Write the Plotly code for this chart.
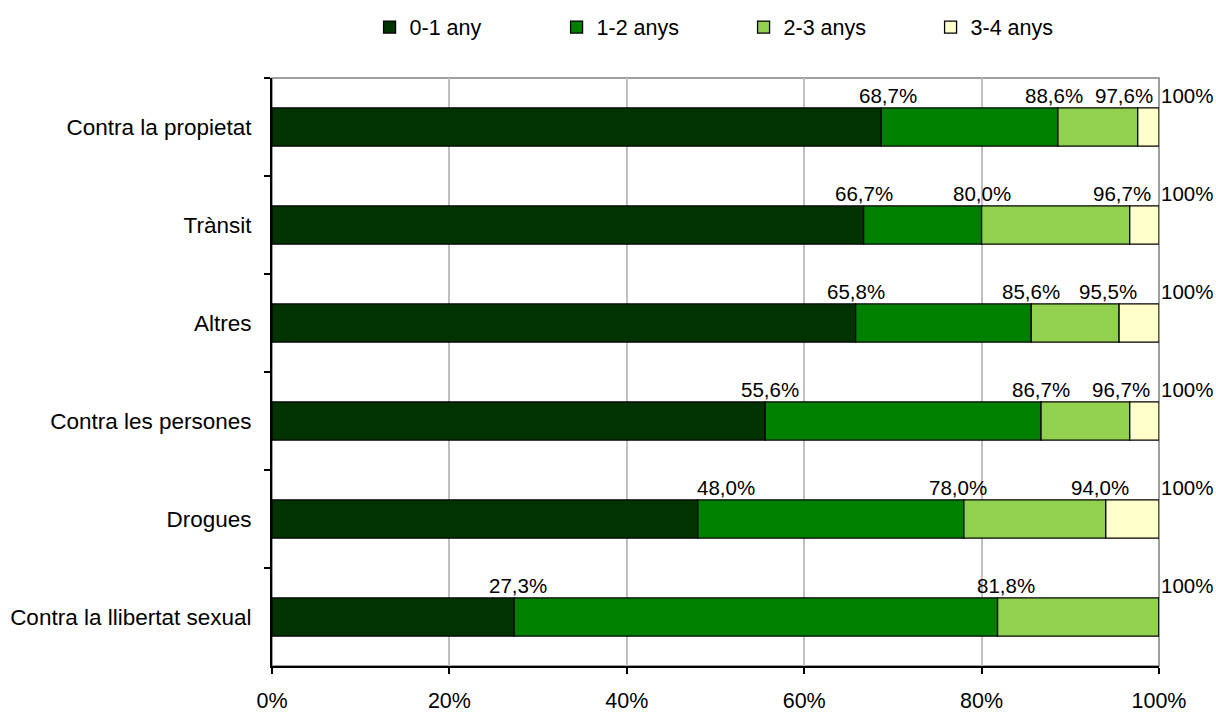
import plotly.graph_objects as go

categories = ["Contra la propietat", "Trànsit", "Altres", "Contra les persones",
              "Drogues", "Contra la llibertat sexual"]
series_names = ["0-1 any", "1-2 anys", "2-3 anys", "3-4 anys"]
# cumulative percentages at the end of each segment
cum_0_1 = [68.7, 66.7, 65.8, 55.6, 48.0, 27.3]
cum_1_2 = [88.6, 80.0, 85.6, 86.7, 78.0, 81.8]
cum_2_3 = [97.6, 96.7, 95.5, 96.7, 94.0, 100.0]
cum_3_4 = [100.0, 100.0, 100.0, 100.0, 100.0, 100.0]
colors = ["#003300", "#008000", "#92D050", "#FFFFCC"]
x_ticks = [0, 20, 40, 60, 80, 100]
x_tick_labels = ["0%", "20%", "40%", "60%", "80%", "100%"]

# pixel nudges of the value labels (layout only), per series then per category
label_dx = [
    [7, 0, 0, 5, 28, 4],
    [-4, 0, 0, 0, -6, 8],
    [-14, -8, -11, -9, -6, 0],
    [0, 0, 0, 0, 0, 0],
]

cums = [cum_0_1, cum_1_2, cum_2_3, cum_3_4]
FONT = "Liberation Sans, Arial, sans-serif"

fig = go.Figure()
prev = [0.0] * len(categories)
for name, cum, col in zip(series_names, cums, colors):
    widths = [c - p for c, p in zip(cum, prev)]
    fig.add_trace(go.Bar(
        y=categories, x=widths, base=prev, name=name, orientation="h",
        marker=dict(color=col, line=dict(color="black", width=1.3)),
        width=0.39, hoverinfo="skip",
    ))
    prev = list(cum)

annotations = []
for i, cat in enumerate(categories):
    shown = []
    for s, cum in enumerate(cums):
        v = cum[i]
        if v in shown:
            continue
        shown.append(v)
        if v >= 100:
            annotations.append(dict(x=100, y=cat, xref="x", yref="y", text="100%",
                                    showarrow=False, xanchor="left", xshift=0, yshift=32,
                                    font=dict(family=FONT, size=20.5, color="black")))
        else:
            txt = f"{v:.1f}".replace(".", ",") + "%"
            annotations.append(dict(x=v, y=cat, xref="x", yref="y", text=txt,
                                    showarrow=False, xanchor="center",
                                    xshift=label_dx[s][i], yshift=32,
                                    font=dict(family=FONT, size=20.5, color="black")))

fig.update_layout(
    width=1216, height=713,
    barmode="overlay",
    paper_bgcolor="white", plot_bgcolor="white",
    margin=dict(l=272, r=57, t=78, b=47, autoexpand=False),
    font=dict(family=FONT, size=21, color="black"),
    showlegend=True,
    legend=dict(orientation="h", x=0.11, xanchor="left", y=0.962, yanchor="middle",
                yref="container", entrywidth=142, entrywidthmode="pixels",
                font=dict(family=FONT, size=21.5), traceorder="normal",
                itemwidth=30, bgcolor="rgba(0,0,0,0)"),
    annotations=annotations,
    shapes=[dict(type="rect", xref="paper", yref="paper", x0=0, x1=1, y0=0, y1=1,
                 line=dict(color="#808080", width=1.5), layer="below")],
)
fig.update_xaxes(range=[0, 100], tickvals=x_ticks, ticktext=x_tick_labels,
                 showgrid=True, gridcolor="#C0C0C0", gridwidth=1.5,
                 showline=True, linecolor="black", linewidth=2,
                 ticks="outside", ticklen=6, tickcolor="black", tickwidth=2,
                 ticklabelstandoff=8, zeroline=False, automargin=False,
                 tickfont=dict(family=FONT, size=21.5))
fig.update_yaxes(categoryorder="array", categoryarray=categories, autorange="reversed",
                 showline=True, linecolor="black", linewidth=2,
                 ticks="outside", ticklen=6, tickcolor="black", tickwidth=2,
                 tickson="boundaries", showgrid=False, automargin=False,
                 ticklabelstandoff=14,
                 tickfont=dict(family=FONT, size=22.5))

fig.write_html("out.html", config={"displayModeBar": False},
               post_script="document.body.style.margin='0';document.body.style.overflow='hidden';")
